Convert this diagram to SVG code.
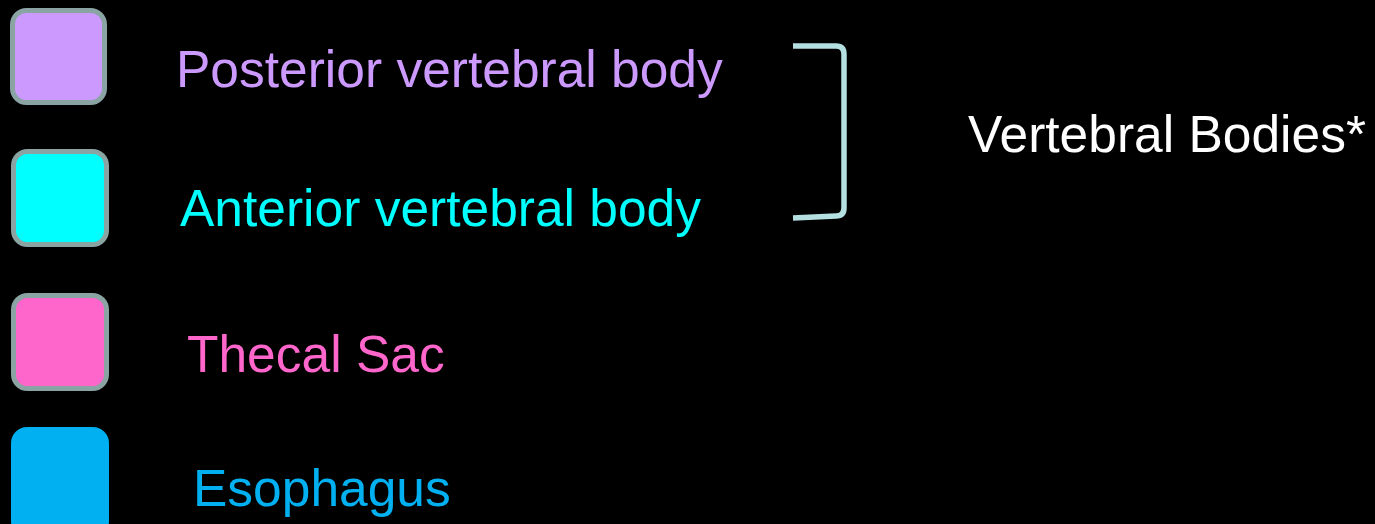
<svg xmlns="http://www.w3.org/2000/svg" width="1375" height="524" viewBox="0 0 1375 524">
<style>
text{font-family:"Liberation Sans",Arial,sans-serif;font-size:51.5px}
.sw{stroke:#8aa3a3;stroke-width:5}
</style>
<rect width="1375" height="524" fill="#000"/>
<g id="posterior">
<rect class="sw" x="12.5" y="10.5" width="92" height="92" rx="14" fill="#cc99ff"/>
<text x="176" y="87" fill="#cc99ff">Posterior vertebral body</text>
</g>
<g id="anterior">
<rect class="sw" x="13.5" y="151.5" width="93" height="93" rx="14" fill="#00ffff"/>
<text x="180" y="226" fill="#00ffff">Anterior vertebral body</text>
</g>
<g id="thecal">
<rect class="sw" x="13.5" y="295.5" width="93" height="93" rx="14" fill="#ff66cc"/>
<text x="187" y="372" fill="#ff66cc">Thecal Sac</text>
</g>
<g id="esophagus">
<rect x="11" y="427" width="98" height="110" rx="16" fill="#00b0f0"/>
<text x="193" y="506" fill="#00b0f0">Esophagus</text>
</g>
<g id="connectors">
<path d="M793 46 L836 46 Q844 46 844 54 L844 208 Q844 216 836 216 L793 218" fill="none" stroke="#b4e0e2" stroke-width="5.5"/>
</g>
<g id="vertebral-bodies">
<text x="968" y="152" fill="#ffffff">Vertebral Bodies*</text>
</g>
</svg>
